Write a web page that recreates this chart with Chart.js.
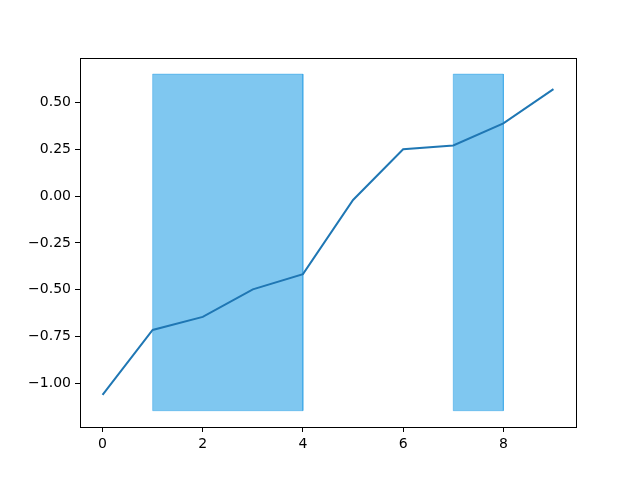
<!DOCTYPE html>
<html>
<head>
<meta charset="utf-8">
<script src="https://cdn.jsdelivr.net/npm/chart.js@4"></script>
<style>
  html, body { margin: 0; padding: 0; background: #fff; }
  #wrap { width: 640px; height: 480px; }
</style>
</head>
<body>
<div id="wrap"><canvas id="lineChart" width="640" height="480"></canvas></div>
<script>
const xValues = [0, 1, 2, 3, 4, 5, 6, 7, 8, 9];
const yValues = [-1.062, -0.715, -0.645, -0.498, -0.417, -0.021, 0.250, 0.270, 0.388, 0.571];
const spans = [[1, 4], [7, 8]];
const spanLow = -1.146;
const spanHigh = 0.651;
const xTicks = [0, 2, 4, 6, 8];
const yTicks = [-1.0, -0.75, -0.5, -0.25, 0.0, 0.25, 0.5];

const spanSets = spans.map(function (s) {
    return {
        data: [
            { x: s[0], y: spanLow }, { x: s[0], y: spanHigh },
            { x: s[1], y: spanHigh }, { x: s[1], y: spanLow },
            { x: s[0], y: spanLow }
        ],
        backgroundColor: 'rgba(0,143,225,0.5)',
        borderColor: 'rgba(0,143,225,0.35)',
        borderWidth: 1,
        fill: 'shape',
        pointRadius: 0,
        tension: 0,
        order: 1
    };
});

// top and right spines
const frame = {
    id: 'frame',
    afterDraw(chart) {
        const a = chart.chartArea, c = chart.ctx;
        c.save();
        c.strokeStyle = '#000';
        c.lineWidth = 1;
        c.strokeRect(a.left + 0.5, a.top + 0.5, a.right - a.left, a.bottom - a.top);
        c.restore();
    }
};

const ctx1 = document.getElementById('lineChart').getContext('2d');
new Chart(ctx1, {
    type: 'line',
    data: {
        datasets: [{
            data: xValues.map((x, i) => ({ x: x, y: yValues[i] })),
            borderColor: '#1f77b4',
            borderWidth: 2,
            pointRadius: 0,
            fill: false,
            tension: 0,
            order: 0
        }].concat(spanSets)
    },
    options: {
        responsive: false,
        animation: false,
        layout: { padding: { top: 58, right: 64, left: 0, bottom: 0 } },
        plugins: { legend: { display: false }, tooltip: { enabled: false } },
        scales: {
            x: {
                type: 'linear',
                min: -0.45,
                max: 9.45,
                afterBuildTicks: s => { s.ticks = xTicks.map(v => ({ value: v })); },
                afterFit: s => { s.height = 53; },
                grid: { drawOnChartArea: false, tickLength: 5, color: '#000' },
                border: { color: '#000' },
                ticks: {
                    color: '#000', padding: 4, maxRotation: 0,
                    font: { family: 'DejaVu Sans', size: 14 },
                    callback: v => String(v)
                }
            },
            y: {
                min: -1.233,
                max: 0.737,
                afterBuildTicks: s => { s.ticks = yTicks.map(v => ({ value: v })); },
                afterFit: s => { s.width = 80; },
                grid: { drawOnChartArea: false, tickLength: 5, color: '#000' },
                border: { color: '#000' },
                ticks: {
                    color: '#000', padding: 4,
                    font: { family: 'DejaVu Sans', size: 14 },
                    callback: v => v.toFixed(2).replace('-', '\u2212')
                }
            }
        }
    },
    plugins: [frame]
});
</script>
</body>
</html>
